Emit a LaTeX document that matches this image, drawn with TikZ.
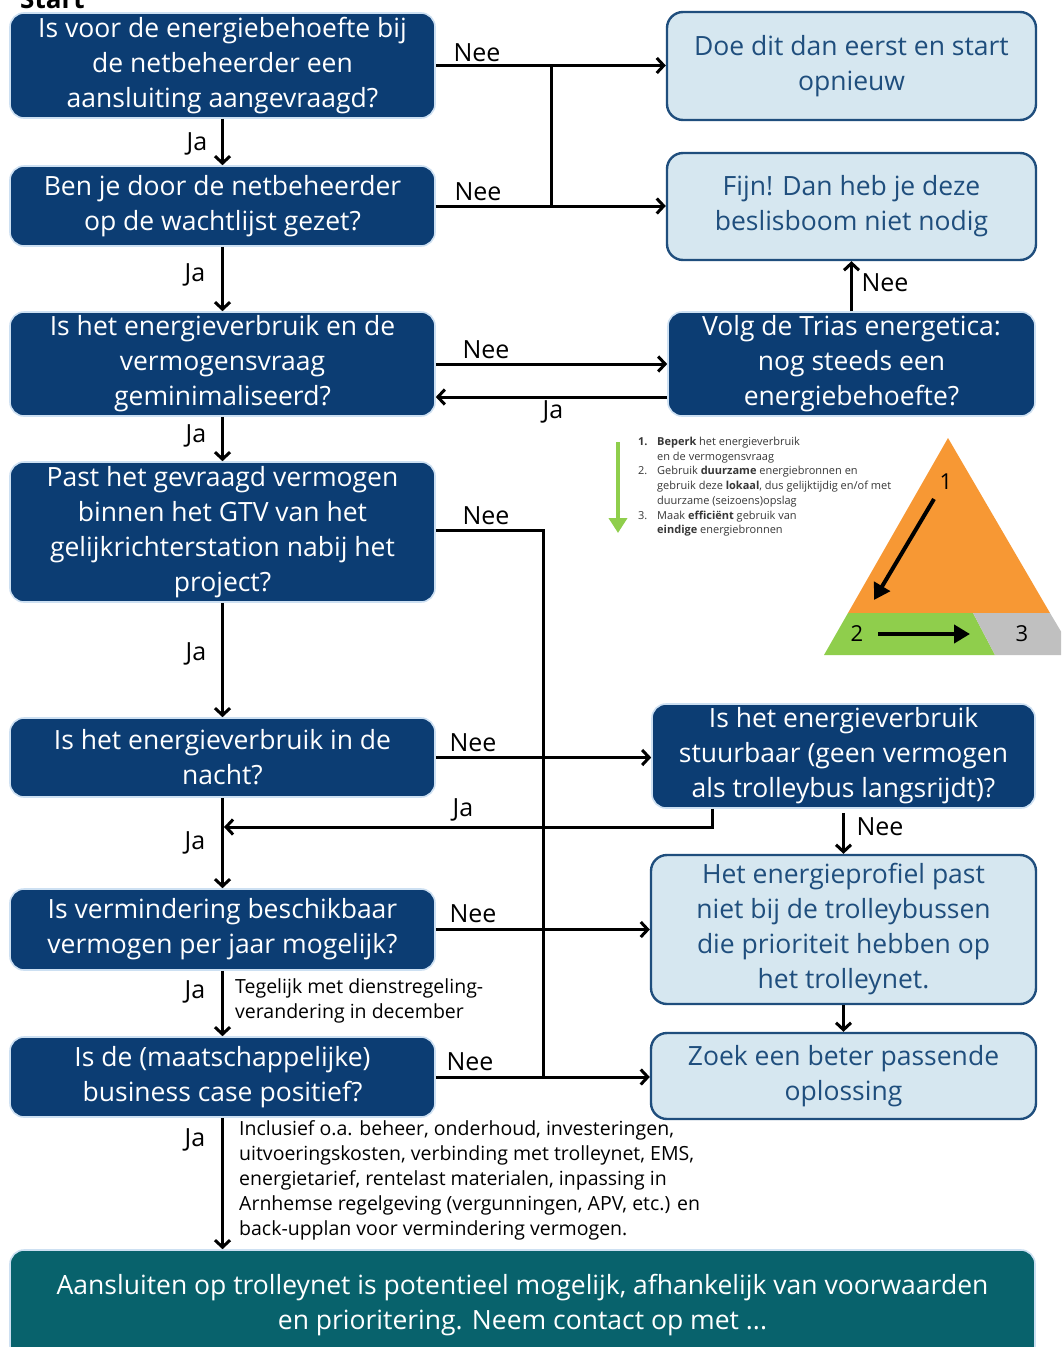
\documentclass[tikz,border=0pt]{standalone}
\usepackage{fontspec}
\setmainfont{Open Sans}
\usetikzlibrary{arrows.meta,calc}
\definecolor{dblue}{RGB}{12,61,115}
\definecolor{lblue}{RGB}{214,231,240}
\definecolor{bordb}{RGB}{31,78,125}
\definecolor{glow}{RGB}{205,224,242}
\definecolor{teal}{RGB}{8,98,108}
\definecolor{tri1}{RGB}{247,152,52}
\definecolor{tri2}{RGB}{143,206,76}
\definecolor{tri3}{RGB}{192,192,192}
\definecolor{legtxt}{RGB}{55,55,55}
\begin{document}
\begin{tikzpicture}[x=1pt,y=-1pt,
  qbox/.style={draw=glow, line width=1.6pt, fill=dblue, rounded corners=14pt, text=white,
     align=center, inner sep=0pt, font=\fontsize{26.5}{35}\selectfont},
  abox/.style={draw=bordb, line width=2.4pt, fill=lblue, rounded corners=16pt, text=bordb,
     align=center, inner sep=0pt, font=\fontsize{26.5}{35}\selectfont},
  conn/.style={line width=3pt, draw=black},
  arr/.style={conn, -{Straight Barb[length=7pt,width=15pt,line width=3pt]}},
  lab/.style={font=\fontsize{25}{28}\selectfont, inner sep=0pt},
  note/.style={font=\fontsize{19.5}{25}\selectfont, align=left, anchor=north west, inner sep=0pt},
]
\useasboundingbox (0,0) rectangle (1061,1347);
\clip (0,0) rectangle (1061,1347);
\fill[white] (0,0) rectangle (1061,1347);

% Start label (cut off at top)
\node[anchor=base west, font=\bfseries\fontsize{26}{30}\selectfont, inner sep=0pt] (start) at (20,8) {Start};

% Left question boxes
\node[qbox, minimum width=425pt, minimum height=105pt] (A) at (222.5,65.5)
  {Is voor de energiebehoefte bij\\de netbeheerder een\\aansluiting aangevraagd?};
\node[qbox, minimum width=425pt, minimum height=80pt] (B) at (222.5,206)
  {Ben je door de netbeheerder\\op de wachtlijst gezet?};
\node[qbox, minimum width=425pt, minimum height=104pt] (C) at (222.5,364)
  {Is het energieverbruik en de\\vermogensvraag\\geminimaliseerd?};
\node[qbox, minimum width=425pt, minimum height=140pt] (D) at (222.5,532)
  {Past het gevraagd vermogen\\binnen het GTV van het\\gelijkrichterstation nabij het\\project?};
\node[qbox, minimum width=425pt, minimum height=79pt] (E) at (222.5,757.5)
  {Is het energieverbruik in de\\nacht?};
\node[qbox, minimum width=425pt, minimum height=81pt] (F) at (222.5,929.5)
  {Is vermindering beschikbaar\\vermogen per jaar mogelijk?};
\node[qbox, minimum width=425pt, minimum height=80pt] (G) at (222.5,1077)
  {Is de (maatschappelijke)\\business case positief?};
\node[qbox, draw=glow, fill=teal, minimum width=1025pt, minimum height=110pt] (H) at (522.5,1305)
  {Aansluiten op trolleynet is potentieel mogelijk, afhankelijk van voorwaarden\\en prioritering. Neem contact op met ...};

% Right boxes
\node[abox, minimum width=369pt, minimum height=108pt] (R1) at (851.5,66)
  {Doe dit dan eerst en start\\opnieuw};
\node[abox, minimum width=369pt, minimum height=107pt] (R2) at (851.5,206.5)
  {Fijn! Dan heb je deze\\beslisboom niet nodig};
\node[qbox, minimum width=367pt, minimum height=104pt] (R3) at (851.5,364)
  {Volg de Trias energetica:\\nog steeds een\\energiebehoefte?};
\node[qbox, minimum width=383pt, minimum height=104pt] (R4) at (843.5,756)
  {Is het energieverbruik\\stuurbaar (geen vermogen\\als trolleybus langsrijdt)?};
\node[abox, minimum width=385pt, minimum height=149pt] (R5) at (843.5,929.5)
  {Het energieprofiel past\\niet bij de trolleybussen\\die prioriteit hebben op\\het trolleynet.};
\node[abox, minimum width=385pt, minimum height=86pt] (R6) at (843.5,1076)
  {Zoek een beter passende\\oplossing};

% Junction coordinates
\coordinate (j1) at (551,65.5);
\coordinate (j2) at (551,206);
\coordinate (gj) at (543,1077);
\coordinate (dj) at (543,530);
\coordinate (efj) at (224,827);

% Connectors
\draw[arr] (A.east) -- (A.east -| R1.west);
\draw[arr] (B.east) -- (B.east -| R2.west);
\draw[conn] (j1) -- (j2);
\draw[arr] (A.south) -- (B.north);
\draw[arr] (B.south) -- (C.north);
\draw[arr] (C.east) -- (C.east -| R3.west);
\draw[arr] ([yshift=-33pt]R3.west) coordinate (r3j) -- (r3j -| C.east);
\draw[arr] (R3.north) -- (R2.south);
\draw[arr] (C.south) -- (D.north);
\draw[conn] (D.east |- dj) -- (dj) -- (gj);
\draw[arr] (D.south) -- (E.north);
\draw[arr] (E.east) -- (E.east -| R4.west);
\draw[arr] ([xshift=-131.5pt]R4.south) |- (efj);
\draw[arr] (E.south) -- (F.north);
\draw[arr] ([yshift=-4pt]R4.south) -- (R5.north);
\draw[arr] (F.east) -- (F.east -| R5.west);
\draw[arr] (R5.south) -- (R6.north);
\draw[arr] (F.south) -- (G.north);
\draw[arr] (G.east) -- (G.east -| R6.west);
\draw[arr] (G.south) -- (G.south |- H.north);

% Labels
\node[lab] (n1) at (477,53) {Nee};
\node[lab] (n2) at (478,192) {Nee};
\node[lab] (n3) at (486,350) {Nee};
\node[lab] (j3) at (553,412) {Ja};
\node[lab] (n4) at (885,283) {Nee};
\node[lab] (n5) at (486,516) {Nee};
\node[lab] (n6) at (473,743) {Nee};
\node[lab] (j6) at (463,810) {Ja};
\node[lab] (n7) at (880,827) {Nee};
\node[lab] (n8) at (473,914) {Nee};
\node[lab] (n9) at (470,1062) {Nee};
\node[lab] (ja1) at (197,144) {Ja};
\node[lab] (ja2) at (195,275) {Ja};
\node[lab] (ja3) at (196,436) {Ja};
\node[lab] (ja4) at (196,654) {Ja};
\node[lab] (ja5) at (195,843) {Ja};
\node[lab] (ja6) at (195,992) {Ja};
\node[lab] (ja7) at (195,1140) {Ja};

% Notes
\node[note] (note1) at (235,978) {Tegelijk met dienstregeling-\\verandering in december};
\node[note] (note2) at (239,1120) {Inclusief o.a. beheer, onderhoud, investeringen,\\uitvoeringskosten, verbinding met trolleynet, EMS,\\energietarief, rentelast materialen, inpassing in\\Arnhemse regelgeving (vergunningen, APV, etc.) en\\back-upplan voor vermindering vermogen.};

% Trias legend
\draw[draw=tri2, line width=4pt, -{Triangle[length=15pt,width=18pt]}] (618,442) -- (618,533);
\node[anchor=north west, align=left, inner sep=0pt, text=legtxt, font=\fontsize{11}{14.7}\selectfont] (leg) at (638,437)
 {\makebox[19pt][l]{\textbf{1.}}\textbf{Beperk} het energieverbruik\\
  \hspace*{19pt}en de vermogensvraag\\
  \makebox[19pt][l]{2.}Gebruik \textbf{duurzame} energiebronnen en\\
  \hspace*{19pt}gebruik deze \textbf{lokaal}, dus gelijktijdig en/of met\\
  \hspace*{19pt}duurzame (seizoens)opslag\\
  \makebox[19pt][l]{3.}Maak \textbf{efficiënt} gebruik van\\
  \hspace*{19pt}\textbf{eindige} energiebronnen};
\fill[tri1] (948,438) -- (1050,613) -- (848,613) -- cycle;
\fill[tri2] (848,613) -- (973,613) -- (995,655) -- (824,655) -- cycle;
\fill[tri3] (973,613) -- (1050,613) -- (1075,655) -- (995,655) -- cycle;
\node[font=\fontsize{22}{24}\selectfont] (t1) at (946,482) {1};
\node[font=\fontsize{22}{24}\selectfont] (t2) at (857,634) {2};
\node[font=\fontsize{22}{24}\selectfont] (t3) at (1022,634) {3};
\draw[line width=4pt, -{Triangle[length=16pt,width=18pt]}] (934,499) -- (874,600);
\draw[line width=4pt, -{Triangle[length=16pt,width=18pt]}] (878,634) -- (970,634);
\end{tikzpicture}
\end{document}
